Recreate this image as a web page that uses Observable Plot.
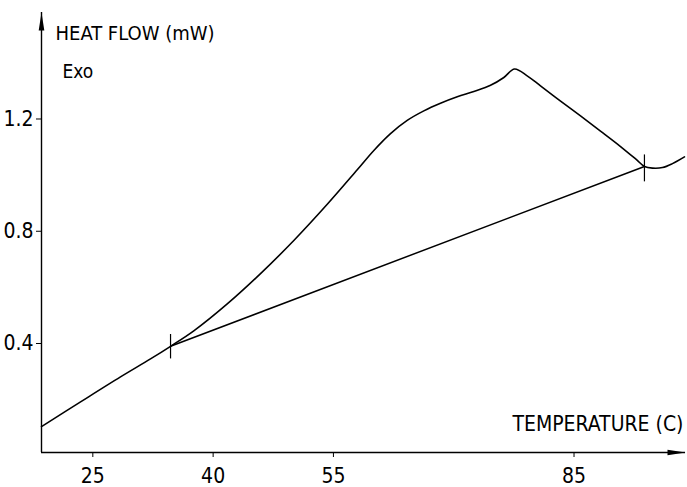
<!DOCTYPE html>
<html>
<head>
<meta charset="utf-8">
<script src="https://cdn.jsdelivr.net/npm/d3@7"></script>
<script src="https://cdn.jsdelivr.net/npm/@observablehq/plot@0.6"></script>
<style>
  html, body { margin: 0; padding: 0; background: #fff; }
  #chart { width: 687px; height: 487px; }
</style>
</head>
<body>
<div id="chart"></div>
<script>
// ---- data ----
const curveTemp = [18.6, 23.47, 28.45, 32.19, 34.69, 37.59, 41.76, 45.91, 50.06, 54.23, 57.97, 60.04, 62.12, 64.20, 66.27, 68.35, 70.44, 72.51, 74.59, 76.25, 77.58, 79.20, 80.82, 83.32, 85.81, 88.30, 90.80, 92.79, 93.78, 94.78, 96.03, 97.27, 98.77];
const curveHeat = [0.104, 0.192, 0.281, 0.345, 0.390, 0.445, 0.541, 0.649, 0.767, 0.896, 1.019, 1.088, 1.148, 1.195, 1.229, 1.256, 1.279, 1.298, 1.320, 1.348, 1.378, 1.353, 1.318, 1.264, 1.211, 1.157, 1.102, 1.055, 1.031, 1.025, 1.027, 1.041, 1.065];
const baseTemp = [34.69, 93.78];
const baseHeat = [0.390, 1.031];
const markLow = [0.345, 0.976];
const markHigh = [0.432, 1.072];
const xTicks = [25, 40, 55, 85];
const yTicks = [0.4, 0.8, 1.2];
const xDomain = [18.6, 98.9];
const yDomain = [0.0116, 1.5795];
const yTitle = "HEAT FLOW (mW)";
const exoLabel = "Exo";
const xTitle = "TEMPERATURE (C)";

const curve = curveTemp.map((t, i) => ({t, h: curveHeat[i]}));
const base = baseTemp.map((t, i) => ({t, h: baseHeat[i]}));
const marks = baseTemp.map((t, i) => ({t, lo: markLow[i], hi: markHigh[i]}));

const FONT = "'Liberation Sans Narrow', 'DejaVu Sans Condensed', 'Roboto Condensed', sans-serif";

// narrow filled arrowhead, tip at origin, body extending downward
const arrowHead = {
  draw(ctx) {
    ctx.moveTo(0, 0);
    ctx.lineTo(2.8, 18);
    ctx.lineTo(-2.8, 18);
    ctx.closePath();
  }
};

const chart = Plot.plot({
  width: 687,
  height: 487,
  marginLeft: 41,
  marginRight: 2,
  marginTop: 12,
  marginBottom: 35,
  style: {fontFamily: FONT, background: "#fff", color: "#000", overflow: "visible"},
  x: {domain: xDomain},
  y: {domain: yDomain},
  marks: [
    // axis lines
    Plot.ruleX([xDomain[0]], {y1: yDomain[0], y2: yDomain[1], stroke: "#000", strokeWidth: 1.4}),
    Plot.ruleY([yDomain[0]], {x1: xDomain[0], x2: xDomain[1], stroke: "#000", strokeWidth: 1.4}),
    Plot.dot([{x: xDomain[0], y: yDomain[1]}], {x: "x", y: "y", symbol: arrowHead, fill: "#000", stroke: null, r: 4}),
    Plot.dot([{x: xDomain[1], y: yDomain[0]}], {x: "x", y: "y", symbol: arrowHead, fill: "#000", stroke: null, r: 4, rotate: 90}),
    Plot.axisX({ticks: xTicks, tickSize: 5, tickPadding: 11, fontSize: 21, label: null, tickFormat: d => String(d), stroke: "#000"}),
    Plot.axisY({ticks: yTicks, tickSize: 5, tickPadding: 3, fontSize: 21, label: null, tickFormat: d3.format(".1f"), stroke: "#000"}),
    // baseline and curve
    Plot.line(base, {x: "t", y: "h", stroke: "#000", strokeWidth: 1.5}),
    Plot.line(curve, {x: "t", y: "h", stroke: "#000", strokeWidth: 1.6, curve: "catmull-rom"}),
    Plot.ruleX(marks, {x: "t", y1: "lo", y2: "hi", stroke: "#000", strokeWidth: 1.2}),
    // titles
    Plot.text([yTitle], {frameAnchor: "top-left", dx: 14, dy: 13.5, text: d => d, textAnchor: "start", fontSize: 20, fill: "#000"}),
    Plot.text([exoLabel], {frameAnchor: "top-left", dx: 21, dy: 51.5, text: d => d, textAnchor: "start", fontSize: 19, fill: "#000"}),
    Plot.text([xTitle], {frameAnchor: "bottom-right", dx: -2, dy: -21.5, text: d => d, textAnchor: "end", fontSize: 21, fill: "#000"})
  ]
});
document.getElementById("chart").appendChild(chart);
</script>
</body>
</html>
